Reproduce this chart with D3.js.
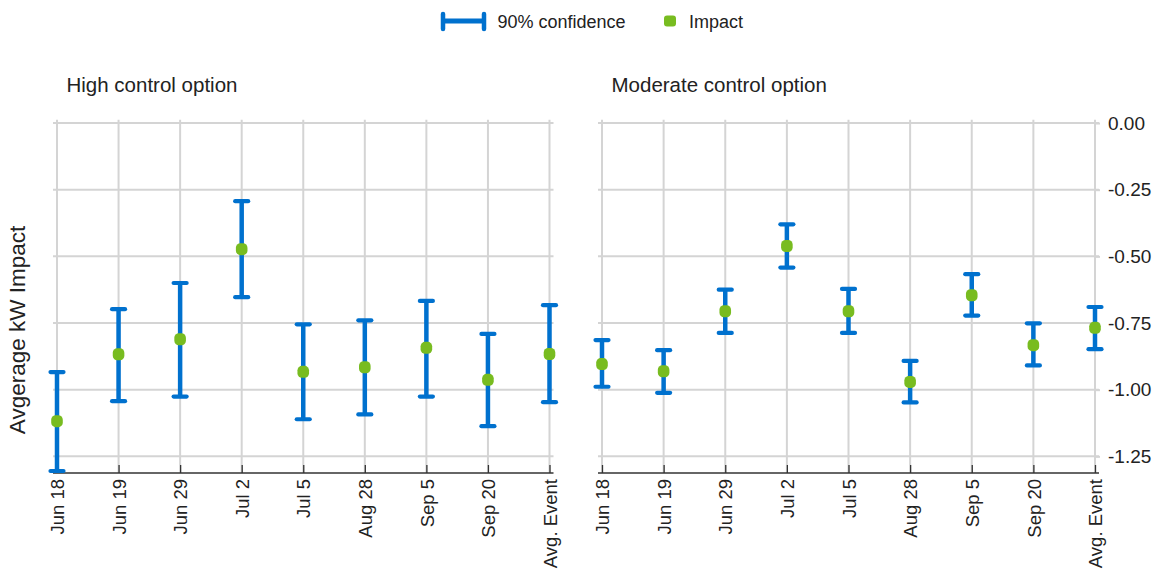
<!DOCTYPE html>
<html>
<head>
<meta charset="utf-8">
<script src="https://cdn.jsdelivr.net/npm/d3@7"></script>
<style>
  html, body { margin: 0; padding: 0; background: #ffffff; }
  svg text { font-family: "Liberation Sans", Arial, sans-serif; fill: #222; }
</style>
</head>
<body>
<svg id="chart" width="1155" height="569"></svg>
<script>
// Event days shown along each panel
const events = ["Jun 18", "Jun 19", "Jun 29", "Jul 2", "Jul 5", "Aug 28", "Sep 5", "Sep 20", "Avg. Event"];

// High control option: estimated impact and 90% confidence bounds (kW)
const highImpact = [-1.118, -0.867, -0.811, -0.473, -0.933, -0.916, -0.843, -0.963, -0.866];
const highUpper  = [-0.934, -0.698, -0.600, -0.293, -0.755, -0.740, -0.667, -0.791, -0.683];
const highLower  = [-1.305, -1.043, -1.026, -0.653, -1.111, -1.093, -1.026, -1.137, -1.047];

// Moderate control option
const modImpact = [-0.904, -0.931, -0.706, -0.461, -0.706, -0.971, -0.646, -0.833, -0.768];
const modUpper  = [-0.814, -0.852, -0.625, -0.380, -0.622, -0.892, -0.567, -0.751, -0.690];
const modLower  = [-0.989, -1.012, -0.787, -0.542, -0.787, -1.048, -0.722, -0.909, -0.848];

// Value axis
const yTicks = [0, -0.25, -0.5, -0.75, -1.0, -1.25];
const yDomain = [-1.3125, 0.0125];

const panelTitles = ["High control option", "Moderate control option"];
const legendLabels = ["90% confidence", "Impact"];
const yAxisTitle = "Avgerage kW Impact";

const BLUE = "#0071ce";
const GREEN = "#78bc20";
const GRID = "#d4d4d4";
const AXIS = "#333333";

const svg = d3.select("#chart");

const y = d3.scaleLinear().domain(yDomain).range([473, 119.7]);

const panels = [
  { title: panelTitles[0], impact: highImpact, upper: highUpper, lower: highLower, range: [57, 549.5], showY: false },
  { title: panelTitles[1], impact: modImpact,  upper: modUpper,  lower: modLower,  range: [602, 1095], showY: true }
];

panels.forEach(p => {
  const x = d3.scalePoint().domain(events).range(p.range);
  const g = svg.append("g");
  const [x0, x1] = p.range;

  // horizontal gridlines
  g.append("g").selectAll("line").data(yTicks).join("line")
    .attr("x1", x0 - 4).attr("x2", x1 + 4)
    .attr("y1", d => y(d)).attr("y2", d => y(d))
    .attr("stroke", GRID).attr("stroke-width", 2);

  // vertical gridlines
  g.append("g").selectAll("line").data(events).join("line")
    .attr("x1", d => x(d)).attr("x2", d => x(d))
    .attr("y1", y.range()[1]).attr("y2", y.range()[0])
    .attr("stroke", GRID).attr("stroke-width", 2);

  // x axis with inward ticks and rotated labels
  const xAxis = d3.axisBottom(x).tickSizeInner(-8).tickSizeOuter(0).tickPadding(0);
  const ax = g.append("g").attr("transform", `translate(0,${y.range()[0]})`).call(xAxis);
  ax.select(".domain").attr("stroke", AXIS).attr("stroke-width", 1.5)
    .attr("d", `M${x0 - 4},0H${x1 + 4}`);
  ax.selectAll(".tick line").attr("stroke", AXIS).attr("stroke-width", 1.3);
  ax.selectAll(".tick text")
    .attr("font-size", 18.5)
    .attr("fill", "#222")
    .attr("transform", "rotate(-90)")
    .attr("text-anchor", "end")
    .attr("x", -6).attr("y", 0).attr("dy", "0.36em");

  // y axis labels on the right of the second panel
  if (p.showY) {
    const yAxis = d3.axisRight(y).tickValues(yTicks).tickFormat(d3.format(".2f")).tickSize(5).tickPadding(8);
    const ay = g.append("g").attr("transform", `translate(${x1},0)`).call(yAxis);
    ay.select(".domain").remove();
    ay.selectAll(".tick line").attr("stroke", GRID).attr("stroke-width", 2);
    ay.selectAll(".tick text").attr("font-size", 19).attr("fill", "#222")
      .text(d => d3.format(".2f")(d).replace("−", "-"));
  }

  // panel title
  g.append("text").attr("x", x0 + 9.5).attr("y", 92).attr("font-size", 20.5).text(p.title);

  // confidence intervals
  const bars = g.append("g").selectAll("g").data(events.map((e, i) => ({ e, i }))).join("g");
  bars.append("line")
    .attr("x1", d => x(d.e)).attr("x2", d => x(d.e))
    .attr("y1", d => y(p.upper[d.i])).attr("y2", d => y(p.lower[d.i]))
    .attr("stroke", BLUE).attr("stroke-width", 4.5);
  ["upper", "lower"].forEach(k => {
    bars.append("line")
      .attr("x1", d => x(d.e) - 6.5).attr("x2", d => x(d.e) + 6.5)
      .attr("y1", d => y(p[k][d.i])).attr("y2", d => y(p[k][d.i]))
      .attr("stroke", BLUE).attr("stroke-width", 4.2).attr("stroke-linecap", "round");
  });

  // impact points
  bars.append("rect")
    .attr("x", d => x(d.e) - 5.8).attr("y", d => y(p.impact[d.i]) - 6)
    .attr("width", 11.6).attr("height", 12).attr("rx", 4.5)
    .attr("fill", GREEN);
});

// y axis title
svg.append("text")
  .attr("transform", "translate(25,330) rotate(-90)")
  .attr("text-anchor", "middle")
  .attr("font-size", 22.5)
  .text(yAxisTitle);

// legend
const lg = svg.append("g");
lg.append("line").attr("x1", 443).attr("x2", 484).attr("y1", 21).attr("y2", 21)
  .attr("stroke", BLUE).attr("stroke-width", 5);
[443, 484].forEach(cx => {
  lg.append("line").attr("x1", cx).attr("x2", cx).attr("y1", 14).attr("y2", 29)
    .attr("stroke", BLUE).attr("stroke-width", 4.5).attr("stroke-linecap", "round");
});
lg.append("text").attr("x", 497.5).attr("y", 28).attr("font-size", 18).text(legendLabels[0]);
lg.append("rect").attr("x", 664).attr("y", 15.5).attr("width", 12).attr("height", 11).attr("rx", 3)
  .attr("fill", GREEN);
lg.append("text").attr("x", 689).attr("y", 28).attr("font-size", 18).text(legendLabels[1]);
</script>
</body>
</html>
